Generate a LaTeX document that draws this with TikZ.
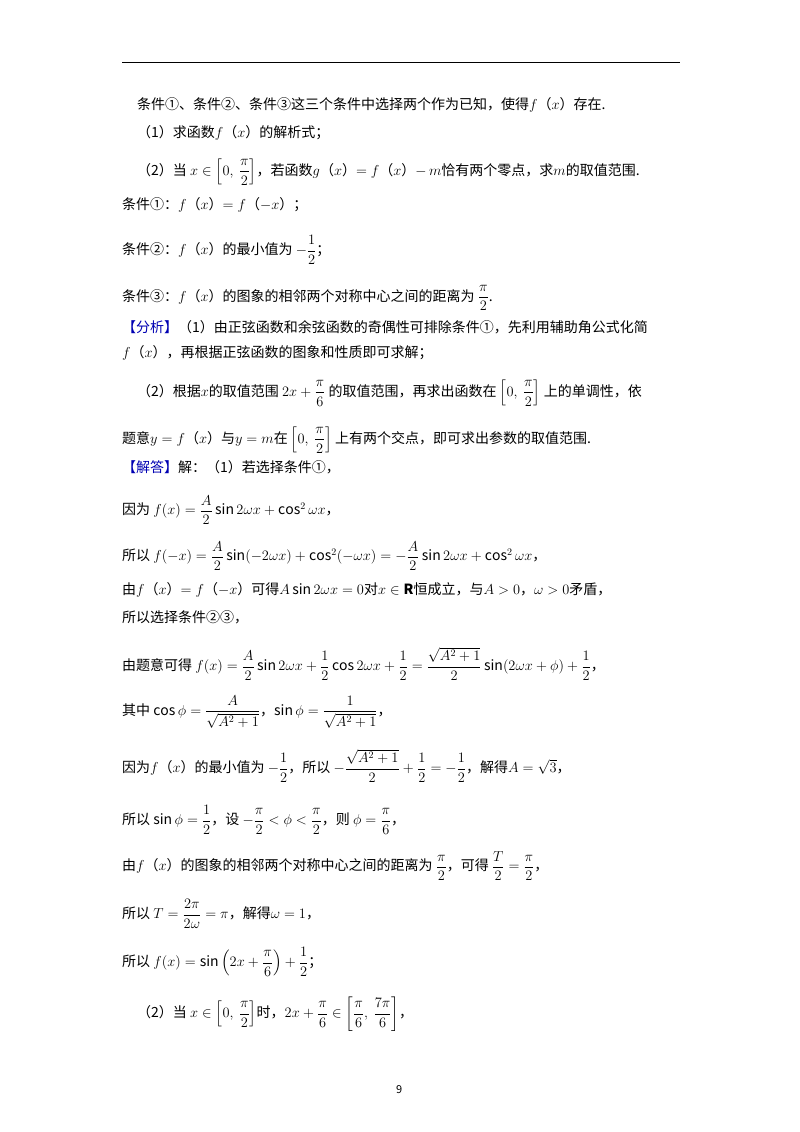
\documentclass[tikz,border=0pt]{standalone}
\usepackage{amsmath}
\usepackage{fontspec}
\setmainfont{Noto Sans CJK SC}
\begin{document}
\begin{tikzpicture}[x=1pt,y=-1pt,
  ln/.style={anchor=west,inner sep=0pt,font=\fontsize{14}{17}\selectfont},
  hl/.style={text=blue!70!black}]
\useasboundingbox (0,0) rectangle (800,1132);
\draw[line width=1pt] (122,63) -- (680,63);
\node[ln] (l1) at (137,105) {条件①、条件②、条件③这三个条件中选择两个作为已知，使得$f$（$x$）存在.};
\node[ln] (l2) at (137,133) {（1）求函数$f$（$x$）的解析式；};
\node[ln] (l3) at (137,172) {（2）当 $x\in\left[0,\ \dfrac{\pi}{2}\right]$，若函数$g$（$x$）$=f$（$x$）$-\,m$恰有两个零点，求$m$的取值范围.};
\node[ln] (l4) at (122,205) {条件①：$f$（$x$）$=f$（$-x$）；};
\node[ln] (l5) at (122,250) {条件②：$f$（$x$）的最小值为 $-\dfrac{1}{2}$；};
\node[ln] (l6) at (122,298) {条件③：$f$（$x$）的图象的相邻两个对称中心之间的距离为 $\dfrac{\pi}{2}$.};
\node[ln] (l7) at (122,327) {\textcolor{blue!70!black}{【分析】}（1）由正弦函数和余弦函数的奇偶性可排除条件①，先利用辅助角公式化简};
\node[ln] (l8) at (122,353) {$f$（$x$），再根据正弦函数的图象和性质即可求解；};
\node[ln] (l9) at (137,393) {（2）根据$x$的取值范围 $2x+\dfrac{\pi}{6}$ 的取值范围，再求出函数在 $\left[0,\ \dfrac{\pi}{2}\right]$ 上的单调性，依};
\node[ln] (l10) at (122,440) {题意$y=f$（$x$）与$y=m$在 $\left[0,\ \dfrac{\pi}{2}\right]$ 上有两个交点，即可求出参数的取值范围.};
\node[ln] (l11) at (122,467) {\textcolor{blue!70!black}{【解答】}解：（1）若选择条件①，};
\node[ln] (l12) at (122,510) {因为 $f(x)=\dfrac{A}{2}\sin2\omega x+\cos^2\omega x$，};
\node[ln] (l13) at (122,556) {所以 $f(-x)=\dfrac{A}{2}\sin(-2\omega x)+\cos^2(-\omega x)=-\dfrac{A}{2}\sin2\omega x+\cos^2\omega x$，};
\node[ln] (l14) at (122,590) {由$f$（$x$）$=f$（$-x$）可得$A\sin2\omega x=0$对$x\in\mathbf{R}$恒成立，与$A>0$，$\omega>0$矛盾，};
\node[ln] (l15) at (122,617) {所以选择条件②③，};
\node[ln] (l16) at (122,664) {由题意可得 $f(x)=\dfrac{A}{2}\sin2\omega x+\dfrac{1}{2}\cos2\omega x+\dfrac{1}{2}=\dfrac{\sqrt{A^2+1}}{2}\sin(2\omega x+\phi)+\dfrac{1}{2}$，};
\node[ln] (l17) at (122,712) {其中 $\cos\phi=\dfrac{A}{\sqrt{A^2+1}}$，$\sin\phi=\dfrac{1}{\sqrt{A^2+1}}$，};
\node[ln] (l18) at (122,766) {因为$f$（$x$）的最小值为 $-\dfrac{1}{2}$，所以 $-\dfrac{\sqrt{A^2+1}}{2}+\dfrac{1}{2}=-\dfrac{1}{2}$，解得$A=\sqrt{3}$，};
\node[ln] (l19) at (122,820) {所以 $\sin\phi=\dfrac{1}{2}$，设 $-\dfrac{\pi}{2}<\phi<\dfrac{\pi}{2}$，则 $\phi=\dfrac{\pi}{6}$，};
\node[ln] (l20) at (122,866) {由$f$（$x$）的图象的相邻两个对称中心之间的距离为 $\dfrac{\pi}{2}$，可得 $\dfrac{T}{2}=\dfrac{\pi}{2}$，};
\node[ln] (l21) at (122,914) {所以 $T=\dfrac{2\pi}{2\omega}=\pi$，解得$\omega=1$，};
\node[ln] (l22) at (122,962) {所以 $f(x)=\sin\left(2x+\dfrac{\pi}{6}\right)+\dfrac{1}{2}$；};
\node[ln] (l23) at (137,1014) {（2）当 $x\in\left[0,\ \dfrac{\pi}{2}\right]$时，$2x+\dfrac{\pi}{6}\in\left[\dfrac{\pi}{6},\ \dfrac{7\pi}{6}\right]$，};
\node[ln,font=\fontsize{11}{13}\selectfont] (pg) at (396,1090) {9};
\end{tikzpicture}
\end{document}
